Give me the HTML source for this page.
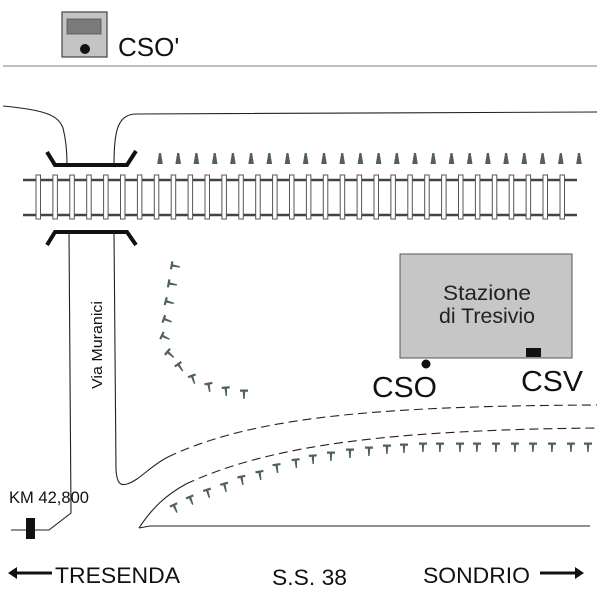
<!DOCTYPE html>
<html><head><style>
html,body{margin:0;padding:0;background:#fff;}
svg{display:block;font-family:"Liberation Sans",Arial,sans-serif;}
</style></head><body>
<svg width="600" height="600" viewBox="0 0 600 600" xmlns="http://www.w3.org/2000/svg">
<defs>
<g id="t"><path d="M-2.8,5.5 L-1,-5.5 L1,-5.5 L2.8,5.5 Z" fill="#4f6258"/></g>
<g id="tt"><path d="M-4,-4.5 L4,-4.5 L4,-2.3 L1.2,-2.3 L0.6,5 L-0.8,5 L-1.2,-2.3 L-4,-2.3 Z" fill="#4f6258"/></g>
<g id="tie"><rect x="-2" y="175" width="4.5" height="44" fill="#fff" stroke="#555" stroke-width="1"/></g>
</defs>
<!-- header -->
<rect x="62" y="12" width="45" height="45" fill="#c4c4c4" stroke="#444" stroke-width="1.2"/>
<rect x="67" y="19" width="34" height="15" fill="#7a7a7a" stroke="#555" stroke-width="0.8"/>
<circle cx="85" cy="49" r="5" fill="#111"/>
<text x="118" y="56" font-size="26" fill="#111">CSO'</text>
<line x1="3" y1="66" x2="597" y2="66" stroke="#999" stroke-width="1.2"/>

<!-- roads top -->
<path d="M3,106 C45,110 58,115 63,128 C66,140 67,150 67,164" fill="none" stroke="#222" stroke-width="1.1"/>
<path d="M114,164 C114,130 118,115 135,114 L597,112" fill="none" stroke="#222" stroke-width="1.1"/>

<!-- rails -->
<line x1="23" y1="180" x2="577" y2="180" stroke="#444" stroke-width="2.5"/>
<line x1="23" y1="215" x2="577" y2="215" stroke="#444" stroke-width="2.5"/>
<g>
<use href="#tie" x="38"/><use href="#tie" x="54.9"/><use href="#tie" x="71.8"/><use href="#tie" x="88.7"/><use href="#tie" x="105.6"/><use href="#tie" x="122.5"/><use href="#tie" x="139.4"/><use href="#tie" x="156.3"/><use href="#tie" x="173.2"/><use href="#tie" x="190.1"/><use href="#tie" x="207"/><use href="#tie" x="223.9"/><use href="#tie" x="240.8"/><use href="#tie" x="257.7"/><use href="#tie" x="274.6"/><use href="#tie" x="291.5"/><use href="#tie" x="308.4"/><use href="#tie" x="325.3"/><use href="#tie" x="342.2"/><use href="#tie" x="359.1"/><use href="#tie" x="376"/><use href="#tie" x="392.9"/><use href="#tie" x="409.8"/><use href="#tie" x="426.7"/><use href="#tie" x="443.6"/><use href="#tie" x="460.5"/><use href="#tie" x="477.4"/><use href="#tie" x="494.3"/><use href="#tie" x="511.2"/><use href="#tie" x="528.1"/><use href="#tie" x="545"/><use href="#tie" x="562"/>
</g>

<!-- bridge -->
<path d="M47,152 L55,165 L127,165 L136,151" fill="none" stroke="#111" stroke-width="4"/>
<path d="M47,245 L55,232 L127,232 L136,245" fill="none" stroke="#111" stroke-width="4"/>

<!-- top tree row -->
<g>
<use href="#t" x="160" y="158.5"/><use href="#t" x="178.2" y="158.5"/><use href="#t" x="196.4" y="158.5"/><use href="#t" x="214.7" y="158.5"/><use href="#t" x="232.9" y="158.5"/><use href="#t" x="251.1" y="158.5"/><use href="#t" x="269.3" y="158.5"/><use href="#t" x="287.5" y="158.5"/><use href="#t" x="305.7" y="158.5"/><use href="#t" x="324" y="158.5"/><use href="#t" x="342.2" y="158.5"/><use href="#t" x="360.4" y="158.5"/><use href="#t" x="378.6" y="158.5"/><use href="#t" x="396.8" y="158.5"/><use href="#t" x="415" y="158.5"/><use href="#t" x="433.3" y="158.5"/><use href="#t" x="451.5" y="158.5"/><use href="#t" x="469.7" y="158.5"/><use href="#t" x="487.9" y="158.5"/><use href="#t" x="506.1" y="158.5"/><use href="#t" x="524.3" y="158.5"/><use href="#t" x="542.6" y="158.5"/><use href="#t" x="560.8" y="158.5"/><use href="#t" x="579" y="158.5"/>
</g>

<!-- curved tree row -->
<g>
<use href="#tt" transform="translate(175,266) rotate(-80)"/>
<use href="#tt" transform="translate(172,284) rotate(-80)"/>
<use href="#tt" transform="translate(169,302) rotate(-75)"/>
<use href="#tt" transform="translate(167,320) rotate(-70)"/>
<use href="#tt" transform="translate(165,337) rotate(-65)"/>
<use href="#tt" transform="translate(170,354) rotate(-50)"/>
<use href="#tt" transform="translate(180,367) rotate(-35)"/>
<use href="#tt" transform="translate(193,379) rotate(-20)"/>
<use href="#tt" transform="translate(209,387) rotate(-10)"/>
<use href="#tt" transform="translate(226,391) rotate(-5)"/>
<use href="#tt" transform="translate(244,394)"/>
</g>

<!-- lower tree row -->
<g>
<use href="#tt" transform="translate(175,508) rotate(-25)"/>
<use href="#tt" transform="translate(191,500) rotate(-22)"/>
<use href="#tt" transform="translate(208,493) rotate(-18)"/>
<use href="#tt" transform="translate(225,487) rotate(-15)"/>
<use href="#tt" transform="translate(242,480) rotate(-12)"/>
<use href="#tt" transform="translate(260,475) rotate(-10)"/>
<use href="#tt" transform="translate(277,468) rotate(-8)"/>
<use href="#tt" transform="translate(296,463) rotate(-6)"/>
<use href="#tt" transform="translate(313,459) rotate(-4)"/>
<use href="#tt" transform="translate(331,456)"/>
<use href="#tt" transform="translate(350,453)"/>
<use href="#tt" transform="translate(369,451)"/>
<use href="#tt" transform="translate(387,449)"/>
<use href="#tt" transform="translate(404,448)"/>
<use href="#tt" transform="translate(423,447)"/>
<use href="#tt" transform="translate(440,447)"/>
<use href="#tt" transform="translate(460,447)"/>
<use href="#tt" transform="translate(477,447)"/>
<use href="#tt" transform="translate(496,447)"/>
<use href="#tt" transform="translate(515,447)"/>
<use href="#tt" transform="translate(533,447)"/>
<use href="#tt" transform="translate(552,447)"/>
<use href="#tt" transform="translate(571,447)"/>
<use href="#tt" transform="translate(588,447)"/>
</g>

<!-- lower roads -->
<path d="M69,232 L71,513 L49,530 L11,530" fill="none" stroke="#222" stroke-width="1.1"/>
<path d="M114,232 L116,470 C117,483 120,486 127,484 C140,480 150,466 168,457" fill="none" stroke="#222" stroke-width="1.1"/>
<path d="M168,457 C250,418 370,406 597,405" fill="none" stroke="#222" stroke-width="1.1" stroke-dasharray="9,5"/>
<path d="M139,528 C152,508 166,495 186,484" fill="none" stroke="#222" stroke-width="1.1"/>
<path d="M186,484 C270,445 390,430 597,428" fill="none" stroke="#222" stroke-width="1.1" stroke-dasharray="9,5"/>
<path d="M139,528 L150,526 L590,526" fill="none" stroke="#222" stroke-width="1.1"/>
<rect x="26" y="518" width="9" height="21" fill="#111"/>

<!-- station -->
<rect x="400" y="254" width="172" height="104" fill="#c6c6c6" stroke="#555" stroke-width="1"/>
<text x="487" y="300" font-size="21" text-anchor="middle" fill="#222" textLength="88" lengthAdjust="spacingAndGlyphs">Stazione</text>
<text x="487" y="323" font-size="21" text-anchor="middle" fill="#222" textLength="96" lengthAdjust="spacingAndGlyphs">di Tresivio</text>
<circle cx="426" cy="364" r="4.5" fill="#111"/>
<rect x="526" y="348" width="15" height="9" fill="#111"/>
<text x="372" y="397" font-size="29" fill="#111" textLength="65" lengthAdjust="spacingAndGlyphs">CSO</text>
<text x="521" y="391" font-size="29" fill="#111" textLength="62" lengthAdjust="spacingAndGlyphs">CSV</text>

<text transform="translate(102,389) rotate(-90)" font-size="15" fill="#111" textLength="88" lengthAdjust="spacingAndGlyphs">Via Muranici</text>
<text x="9" y="503" font-size="17" fill="#111" textLength="80" lengthAdjust="spacingAndGlyphs">KM 42,800</text>

<!-- bottom labels -->
<path d="M8,573 L17,567 L17,571.5 L52,571.5 L52,574.5 L17,574.5 L17,579 Z" fill="#111"/>
<text x="55" y="583" font-size="22" fill="#111" textLength="125" lengthAdjust="spacingAndGlyphs">TRESENDA</text>
<text x="272" y="585" font-size="22" fill="#111" textLength="75" lengthAdjust="spacingAndGlyphs">S.S. 38</text>
<text x="423" y="583" font-size="22" fill="#111" textLength="107" lengthAdjust="spacingAndGlyphs">SONDRIO</text>
<path d="M584,573 L575,567 L575,571.5 L540,571.5 L540,574.5 L575,574.5 L575,579 Z" fill="#111"/>
</svg>
</body></html>
